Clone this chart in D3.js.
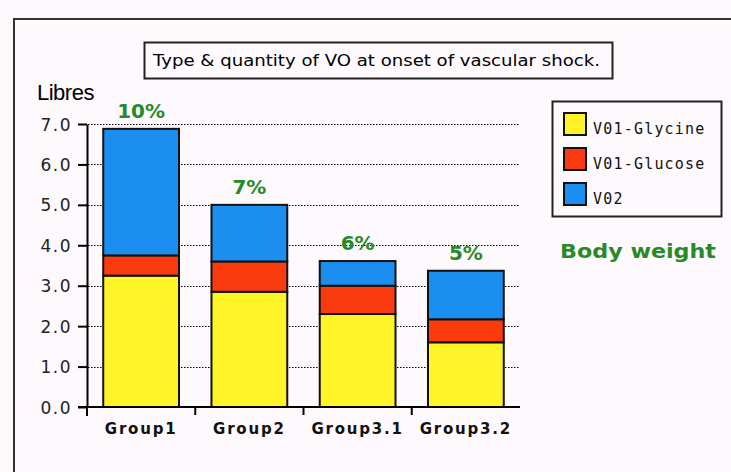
<!DOCTYPE html>
<meta charset="utf-8">
<style>
    body { margin: 0; background-color: #fcf8fc; }
    svg { display: block; font-family: "DejaVu Sans", sans-serif; }
    .grade { stroke: #000; stroke-width: 1.2; stroke-dasharray: 1.5,1.5; }
    .eixo path, .eixo line { stroke: #000; stroke-width: 2; }
</style>
<script src="https://cdn.jsdelivr.net/npm/d3@7"></script>
<svg width="731" height="472"></svg>
<script>
    // valores (litros)
    var grupos = ["Group1", "Group2", "Group3.1", "Group3.2"];
    var glicina = [3.25, 2.85, 2.3, 1.6];
    var glicose = [0.5, 0.75, 0.7, 0.57];
    var vo2 = [3.13, 1.4, 0.61, 1.2];
    var pesoCorporal = ["10%", "7%", "6%", "5%"];
    var series = ["V01-Glycine", "V01-Glucose", "V02"];
    var marcasY = [0, 1, 2, 3, 4, 5, 6, 7];

    var cores = ["#fff427", "#fb3a0e", "#1b8eef"];
    var verde = "#268a26";

    var svg = d3.select("svg");

    // moldura externa
    svg.append("rect")
        .attr("x", 14).attr("y", 19)
        .attr("width", 760).attr("height", 500)
        .attr("fill", "#fdf9fd")
        .attr("stroke", "#333").attr("stroke-width", 2);

    // caixa do titulo
    svg.append("rect")
        .attr("x", 144.5).attr("y", 42.5)
        .attr("width", 468).attr("height", 36)
        .attr("fill", "none").attr("stroke", "#222").attr("stroke-width", 2);
    svg.append("text")
        .attr("x", 153).attr("y", 66)
        .attr("font-size", 15)
        .attr("textLength", 447).attr("lengthAdjust", "spacingAndGlyphs")
        .text("Type & quantity of VO at onset of vascular shock.");

    svg.append("text")
        .attr("x", 37).attr("y", 100)
        .attr("font-family", "Liberation Sans, sans-serif")
        .attr("font-size", 22).attr("letter-spacing", -0.5)
        .text("Libres");

    var dados = grupos.map(function (g, i) {
        return { grupo: g, "V01-Glycine": glicina[i], "V01-Glucose": glicose[i], "V02": vo2[i], peso: pesoCorporal[i] };
    });

    var x = d3.scaleBand().domain(grupos).range([87, 520]).paddingInner(0.3).paddingOuter(0.15);
    var y = d3.scaleLinear().domain([0, 7]).range([407, 124]);

    // grade pontilhada
    svg.append("g").selectAll("line")
        .data(marcasY.slice(1))
        .enter().append("line")
        .attr("class", "grade")
        .attr("x1", 88).attr("x2", 520)
        .attr("y1", function (d) { return Math.round(y(d)) + 0.5; })
        .attr("y2", function (d) { return Math.round(y(d)) + 0.5; });

    // barras empilhadas
    var pilha = d3.stack().keys(series)(dados);
    svg.append("g").selectAll("g")
        .data(pilha)
        .enter().append("g")
        .attr("fill", function (d, i) { return cores[i]; })
        .selectAll("rect")
        .data(function (d) { return d; })
        .enter().append("rect")
        .attr("x", function (d) { return x(d.data.grupo); })
        .attr("y", function (d) { return y(d[1]); })
        .attr("width", x.bandwidth())
        .attr("height", function (d) { return y(d[0]) - y(d[1]); })
        .attr("stroke", "#111").attr("stroke-width", 2);

    // eixo y
    var eixoY = svg.append("g")
        .attr("class", "eixo")
        .attr("transform", "translate(87,0)")
        .call(d3.axisLeft(y).tickValues(marcasY).tickFormat(d3.format(".1f")).tickSize(9).tickSizeOuter(0).tickPadding(6));
    eixoY.selectAll("text")
        .attr("font-family", "DejaVu Sans, sans-serif")
        .attr("font-size", 17).attr("letter-spacing", 1.5)
        .attr("fill", "#222")
        .attr("dy", "0.36em");
    eixoY.append("line").attr("x1", 0).attr("x2", 0).attr("y1", y(0)).attr("y2", y(0) + 9);

    // eixo x
    var eixoX = svg.append("g")
        .attr("class", "eixo")
        .attr("transform", "translate(0," + y(0) + ")")
        .call(d3.axisBottom(x).tickSize(0).tickSizeOuter(0).tickPadding(0));
    eixoX.select(".domain").attr("d", "M78,0H520");
    eixoX.selectAll("text")
        .attr("font-family", "DejaVu Sans, sans-serif")
        .attr("font-weight", "bold")
        .attr("font-size", 15).attr("letter-spacing", 1.8)
        .attr("fill", "#111")
        .attr("dy", 27);
    eixoX.selectAll(".divisa")
        .data(grupos.slice(0, -1))
        .enter().append("line")
        .attr("class", "divisa")
        .attr("x1", function (d) { return x(d) + x.bandwidth() + x.step() * x.paddingInner() / 2; })
        .attr("x2", function (d) { return x(d) + x.bandwidth() + x.step() * x.paddingInner() / 2; })
        .attr("y1", 0).attr("y2", 8);

    // percentuais de peso corporal
    svg.append("g").selectAll("text")
        .data(pilha[pilha.length - 1])
        .enter().append("text")
        .attr("x", function (d) { return x(d.data.grupo) + x.bandwidth() / 2; })
        .attr("y", function (d) { return y(d[1]) - 11; })
        .attr("text-anchor", "middle")
        .attr("font-weight", "bold").attr("font-size", 20)
        .attr("fill", verde)
        .text(function (d) { return d.data.peso; });

    // legenda
    var legenda = svg.append("g");
    legenda.append("rect")
        .attr("x", 552.5).attr("y", 101.5)
        .attr("width", 169).attr("height", 115)
        .attr("fill", "none").attr("stroke", "#222").attr("stroke-width", 2);
    var item = legenda.selectAll(".item")
        .data(series)
        .enter().append("g")
        .attr("class", "item")
        .attr("transform", function (d, i) { return "translate(564," + (113 + i * 35) + ")"; });
    item.append("rect")
        .attr("width", 22).attr("height", 22)
        .attr("fill", function (d, i) { return cores[i]; })
        .attr("stroke", "#111").attr("stroke-width", 2);
    item.append("text")
        .attr("x", 29).attr("y", 21)
        .attr("font-family", "DejaVu Sans Mono, monospace")
        .attr("font-size", 15).attr("letter-spacing", 1.2)
        .attr("fill", "#111")
        .text(function (d) { return d; });

    svg.append("text")
        .attr("x", 560).attr("y", 258)
        .attr("font-weight", "bold").attr("font-size", 20)
        .attr("textLength", 156).attr("lengthAdjust", "spacingAndGlyphs")
        .attr("fill", verde)
        .text("Body weight");
</script>
